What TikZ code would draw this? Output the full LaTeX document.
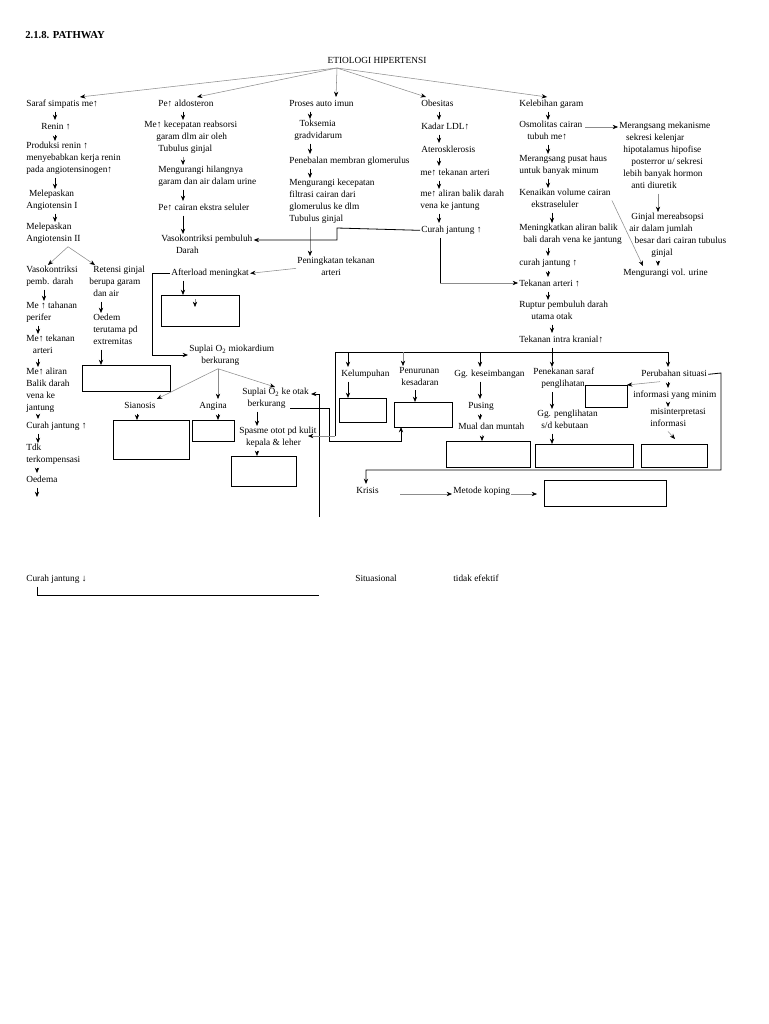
\documentclass[tikz,border=0pt]{standalone}
\usepackage{fontspec}
\setmainfont{Liberation Serif}
\usetikzlibrary{arrows.meta,fit}
\newcommand\fs{\fontsize{7}{9}\selectfont}
\newcommand\bxn[5]{\coordinate (#1a) at (#2,#3); \coordinate (#1b) at (#4,#5); \node[bx, fit=(#1a)(#1b)] (#1) {};}
\begin{document}
\begin{tikzpicture}[x=0.75pt,y=-0.75pt,
 t/.style={font=\fs, inner sep=0pt, outer sep=1pt, anchor=north west, align=left, execute at begin node=\strut},
 tb/.style={font=\bfseries\fontsize{8}{10}\selectfont, inner sep=0pt, anchor=north west},
 bx/.style={draw, line width=0.65pt, inner sep=0pt, outer sep=0pt},
 ar/.style={line width=0.5pt, -{Stealth[length=4pt,width=3.2pt]}},
 gar/.style={draw=black!45, line width=0.4pt, -{Stealth[length=4pt,width=3.2pt,color=black]}},
 ln/.style={line width=0.6pt},
 lar/.style={line width=0.6pt, -{Stealth[length=4pt,width=3.2pt]}},
 gln/.style={draw=black!45, line width=0.4pt}]
\fill[white] (0,0) rectangle (768,1024);
\useasboundingbox (0,0) rectangle (768,1024);
% column x coordinates
\foreach \n/\x in {k1/55,k1b/44,k1c/38,k1d/37,k2/101,k3/183,k4/310,k5/439,k6/548,k6b/552,k7/658,k8/218,k10/137,k11/257,m1/348,m2/403,m3/480,m4/552,m5/668,m6/415,m8/401,m7/482,e1/80,e2/197,e3/336,e4/426,e5/547,f1/68,f2/48,f3/95,fo2/218,ot/275,g1/660,h2/643,w3/440}{\coordinate (\n) at (\x,0);}
% title and root
\node[tb] (title) at (25,31) {2.1.8. PATHWAY};
\node[t, anchor=north] (etio) at (377,54) {ETIOLOGI HIPERTENSI};
\coordinate (eo) at (337,68);
% column 1
\node[t] (saraf) at (25,97) {Saraf simpatis me↑};
\node[t] (renin) at (40,120) {Renin ↑};
\node[t] (prod) at (25,141) {Produksi renin ↑\\menyebabkan kerja renin\\pada angiotensinogen↑};
\node[t] (ang1) at (25,189) {\hspace*{2pt}Melepaskan\\Angiotensin I};
\node[t] (ang2) at (25,222) {Melepaskan\\Angiotensin II};
\node[t] (vaso1) at (25,265) {Vasokontriksi\\pemb. darah};
\node[t] (reten) at (88,265) {\hspace*{3pt}Retensi ginjal\\berupa garam\\\hspace*{3pt}dan air};
\node[t] (tahan) at (25,301) {Me ↑ tahanan\\perifer};
\node[t] (tek1) at (25,334) {Me↑ tekanan\\\hspace*{5pt}arteri};
\node[t] (alir1) at (25,367) {Me↑ aliran\\Balik darah\\vena ke\\jantung};
\node[t] (curah1) at (25,419) {Curah jantung ↑};
\node[t] (tdk) at (25,443) {Tdk\\terkompensasi};
\node[t] (oed1) at (25,473) {Oedema};
\node[t] (curahdn) at (25,572) {Curah jantung ↓};
\node[t] (oed2) at (92,313) {Oedem\\terutama pd\\extremitas};
\bxn{box1}{82}{365}{170}{391}
% column 2
\node[t] (ald) at (157,97) {Pe↑ aldosteron};
\node[t] (reab) at (143,120) {Me↑ kecepatan reabsorsi\\\hspace*{9pt}garam dlm air oleh\\\hspace*{10.5pt}Tubulus ginjal};
\node[t] (hilang) at (157,165) {Mengurangi hilangnya\\garam dan air dalam urine};
\node[t] (ekstra) at (157,201) {Pe↑ cairan ekstra seluler};
\node[t] (vaso2) at (160,234) {Vasokontriksi pembuluh\\\hspace*{11pt}Darah};
\node[t] (after) at (170,266) {Afterload meningkat};
\bxn{box2}{161}{295}{239}{326}
\coordinate (i1) at (195,299); \coordinate (i2) at (195,307);
\node[t] (supmio) at (188,344) {Suplai O\textsubscript{2} miokardium\\\hspace*{9pt}berkurang};
\node[t] (sian) at (123,399) {Sianosis};
\node[t] (angina) at (198,399) {Angina};
\node[t] (otak) at (241,387) {Suplai O\textsubscript{2} ke otak\\\hspace*{4pt}berkurang};
\node[t] (spasme) at (238,426) {Spasme otot pd kulit\\\hspace*{5pt}kepala \& leher};
\bxn{box3}{113}{420}{189}{459}
\bxn{box4}{192}{420}{234}{441}
\bxn{box5}{231}{456}{296}{486}
% column 4
\node[t] (proses) at (288,97) {Proses auto imun};
\node[t] (toks) at (293,119) {\hspace*{4pt}Toksemia\\gradvidarum};
\node[t] (tebal) at (288,154) {Penebalan membran glomerulus};
\node[t] (kurangf) at (288,178) {Mengurangi kecepatan\\filtrasi cairan dari\\glomerulus ke dlm\\Tubulus ginjal};
\node[t] (ningk) at (296,256) {Peningkatan tekanan\\\hspace*{18pt}arteri};
% column 5
\node[t] (obes) at (420,97) {Obesitas};
\node[t] (ldl) at (420,120) {Kadar LDL↑};
\node[t] (ater) at (420,143) {Aterosklerosis};
\node[t] (tek5) at (419,166) {me↑ tekanan arteri};
\node[t] (alir5) at (419,189) {me↑ aliran balik darah\\vena ke jantung};
\node[t] (curah5) at (420,223) {Curah jantung ↑};
% column 6
\node[t] (garam) at (518,97) {Kelebihan garam};
\node[t] (osmo) at (518,120) {Osmolitas cairan\\\hspace*{6pt}tubuh me↑};
\node[t] (haus) at (518,154) {Merangsang pusat haus\\untuk banyak minum};
\node[t] (kenaik) at (518,188) {Kenaikan volume cairan\\\hspace*{9pt}ekstraseluler};
\node[t] (mening) at (518,223) {Meningkatkan aliran balik\\\hspace*{3pt}bali darah vena ke jantung};
\node[t] (curah6) at (518,256) {curah jantung ↑};
\node[t] (tekart) at (518,277) {Tekanan arteri ↑};
\node[t] (ruptur) at (518,300) {Ruptur pembuluh darah\\\hspace*{9pt}utama otak};
\node[t] (tik) at (518,333) {Tekanan intra kranial↑};
% column 7
\node[t] (mek) at (618,121) {Merangsang mekanisme\\\hspace*{5pt}sekresi kelenjar\\\hspace*{3pt}hipotalamus hipofise\\\hspace*{9pt}posterror u/ sekresi\\\hspace*{3pt}lebih banyak hormon\\\hspace*{9pt}anti diuretik};
\node[t] (ginjal) at (628,212) {\hspace*{1.5pt}Ginjal mereabsopsi\\air dalam  jumlah\\\hspace*{4pt}besar dari cairan tubulus\\\hspace*{16.5pt}ginjal};
\node[t] (urine) at (622,266) {Mengurangi vol. urine};
% lower right
\node[t] (kelum) at (340,367) {Kelumpuhan};
\bxn{box6}{339}{398}{386}{422}
\node[t] (penur) at (398,366) {Penurunan\\\hspace*{1.5pt}kesadaran};
\bxn{penbox}{394}{402}{452}{427}
\node[t] (gg) at (453,367) {Gg. keseimbangan};
\node[t] (pusing) at (467,399) {Pusing};
\node[t] (mual) at (457,420) {Mual dan muntah};
\bxn{box7}{446}{441}{530}{467}
\node[t] (penek) at (532,367) {Penekanan saraf\\\hspace*{6pt}penglihatan};
\node[t] (ggpen) at (536,409) {Gg. penglihatan\\\hspace*{3pt}s/d kebutaan};
\bxn{box8}{535}{444}{633}{467}
\node[t] (perub) at (640,367) {Perubahan situasi};
\bxn{minbox}{585}{385}{627}{407}
\node[t] (info) at (632,388) {informasi yang minim};
\node[t] (misi) at (649,407) {misinterpretasi\\informasi};
\bxn{box9}{641}{444}{707}{467}
\node[t] (krisis) at (355,484) {Krisis};
\node[t] (metode) at (452,484) {Metode koping};
\bxn{box10}{544}{480}{666}{506}
\node[t] (situ) at (354,572) {Situasional};
\node[t] (tidak) at (452,572) {tidak efektif};
% ---------- connectors ----------
% root fan
\draw[gar] (eo) -- (saraf.north -| e1);
\draw[gar] (eo) -- (ald.north -| e2);
\draw[gar] (eo) -- (proses.north -| e3);
\draw[gar] (eo) -- (obes.north -| e4);
\draw[gar] (eo) -- (garam.north -| e5);
% column 1
\draw[ar] (saraf.south -| k1) -- (renin.north -| k1);
\draw[ar] (renin.south -| k1) -- (prod.north -| k1);
\draw[ar] (prod.south -| k1) -- (ang1.north -| k1);
\draw[ar] (ang1.south -| k1) -- (ang2.north -| k1);
\draw[gar] (ang2.south -| f1) -- (vaso1.north -| f2);
\draw[gar] (ang2.south -| f1) -- (reten.north -| f3);
\draw[ar] (vaso1.south -| k1b) -- (tahan.north -| k1b);
\draw[ar] (tahan.south -| k1c) -- (tek1.north -| k1c);
\draw[ar] (tek1.south -| k1c) -- (alir1.north -| k1c);
\draw[ar] (alir1.south -| k1c) -- (curah1.north -| k1c);
\draw[ar] (curah1.south -| k1c) -- (tdk.north -| k1c);
\draw[ar] (tdk.south -| k1d) -- (oed1.north -| k1d);
\coordinate (oedend) at (37,497);
\draw[ar] (oed1.south -| k1d) -- (oedend);
\draw[ar] (reten.south -| k2) -- (oed2.north -| k2);
\draw[ar] (oed2.south -| k2) -- (box1.north -| k2);
\coordinate (q1) at (37,595); \coordinate (q2) at (319,595);
\draw[ln] (curahdn.south -| q1) -- (q1) -- (q2);
\coordinate (q3) at (319,517); \coordinate (q4) at (319,394); \coordinate (q5) at (311,394);
\draw[lar] (q3) -- (q4) -- (q5);
% column 2
\draw[ar] (ald.south -| k3) -- (reab.north -| k3);
\draw[gar] (reab.south -| k3) -- (hilang.north -| k3);
\draw[ar] (hilang.south -| k3) -- (ekstra.north -| k3);
\draw[ar] (ekstra.south -| k3) -- (vaso2.north -| k3);
\draw[ar] (after.south -| k3) -- (box2.north -| k3);
\draw[gar] (i1) -- (i2);
\coordinate (r2) at (152,355);
\draw[lar] (after.west) -| (r2) -- (supmio.west |- r2);
\draw[gar] (supmio.south -| fo2) -- (sian.north east);
\draw[gar] (supmio.south -| k8) -- (angina.north -| k8);
\draw[gar] (supmio.south -| fo2) -- (otak.north -| ot);
\draw[ar] (sian.south -| k10) -- (box3.north -| k10);
\draw[ar] (angina.south -| k8) -- (box4.north -| k8);
\draw[ar] (otak.south -| k11) -- (spasme.north -| k11);
\draw[ar] (spasme.south -| k11) -- (box5.north -| k11);
\coordinate (s1) at (290,408); \coordinate (s3) at (329,441);
\draw[lar] (s1) -| (s3) -| (penbox.south -| m8);
% column 4
\draw[ar] (proses.south -| k4) -- (toks.north -| k4);
\draw[ar] (toks.south -| k4) -- (tebal.north -| k4);
\draw[ar] (tebal.south -| k4) -- (kurangf.north -| k4);
\draw[gar] (kurangf.south -| k4) -- (ningk.north -| k4);
\draw[gar] (ningk.west) -- (after.east);
% column 5
\draw[ar] (obes.south -| k5) -- (ldl.north -| k5);
\draw[ar] (ldl.south -| k5) -- (ater.north -| k5);
\draw[ar] (ater.south -| k5) -- (tek5.north -| k5);
\draw[ar] (tek5.south -| k5) -- (alir5.north -| k5);
\draw[ar] (alir5.south -| k5) -- (curah5.north -| k5);
\coordinate (w1) at (337,228); \coordinate (w2) at (337,240);
\draw[lar] (curah5.west) -- (w1) -- (w2) -- (vaso2.east |- w2);
\coordinate (w4) at (440,283);
\draw[ln] (curah5.south -| w3) -- (w4);
\draw[gar] (w4) -- (tekart.west |- w4);
% column 6
\draw[ar] (garam.south -| k6) -- (osmo.north -| k6);
\draw[ar] (osmo.south -| k6) -- (haus.north -| k6);
\draw[ar] (haus.south -| k6) -- (kenaik.north -| k6);
\draw[ar] (kenaik.south -| k6b) -- (mening.north -| k6b);
\draw[ar] (mening.south -| k6) -- (curah6.north -| k6);
\draw[ar] (curah6.south -| k6) -- (tekart.north -| k6);
\draw[ar] (tekart.south -| k6) -- (ruptur.north -| k6);
\draw[ar] (ruptur.south -| k6b) -- (tik.north -| k6b);
\coordinate (h1) at (585,127);
\draw[gar] (h1) -- (mek.west |- h1);
\draw[gar] (kenaik.east) -- (urine.north -| h2);
% column 7
\draw[gar] (mek.south -| k7) -- (ginjal.north -| k7);
\draw[ar] (ginjal.south -| k7) -- (urine.north -| k7);
% bracket under intra kranial
\coordinate (tl) at (335,352); \coordinate (tr) at (668,352); \coordinate (t3) at (335,436); \coordinate (t4) at (308,436);
\draw[ln] (tik.south -| m4) -- (m4 |- tl);
\draw[ln] (t3) -- (tl) -- (tr);
\draw[gar] (t3) -- (t4);
\draw[ar] (tl -| m1) -- (kelum.north -| m1);
\draw[gar] (tl -| m2) -- (penur.north -| m2);
\draw[ar] (tl -| m3) -- (gg.north -| m3);
\draw[ar] (tl -| m4) -- (penek.north -| m4);
\draw[ar] (tr) -- (perub.north -| m5);
\draw[ar] (kelum.south -| m1) -- (box6.north -| m1);
\draw[ar] (penur.south -| m6) -- (penbox.north -| m6);
\draw[ar] (gg.south -| m3) -- (pusing.north -| m3);
\draw[ar] (pusing.south -| m3) -- (mual.north -| m3);
\draw[gar] (mual.south -| m7) -- (box7.north -| m7);
\draw[ar] (penek.south -| m4) -- (ggpen.north -| m4);
\draw[ar] (ggpen.south -| m4) -- (box8.north -| m4);
\draw[gar] (perub.south -| g1) -- (minbox.north east);
\draw[ar] (perub.south -| m5) -- (info.north -| m5);
\draw[ar] (info.south -| m5) -- (misi.north -| m5);
\coordinate (g5) at (675,439);
\draw[gar] (misi.south -| m5) -- (g5);
\coordinate (u1) at (721,373); \coordinate (u2) at (721,470); \coordinate (u3) at (366,470);
\draw[lar] (perub.east) -- (u1) -- (u2) -- (u3) -- (krisis.north -| u3);
\coordinate (v1) at (400,494); \coordinate (v2) at (537,494);
\draw[gar] (v1) -- (metode.west |- v1);
\draw[gar] (metode.east |- v1) -- (v2);
\end{tikzpicture}
\end{document}
